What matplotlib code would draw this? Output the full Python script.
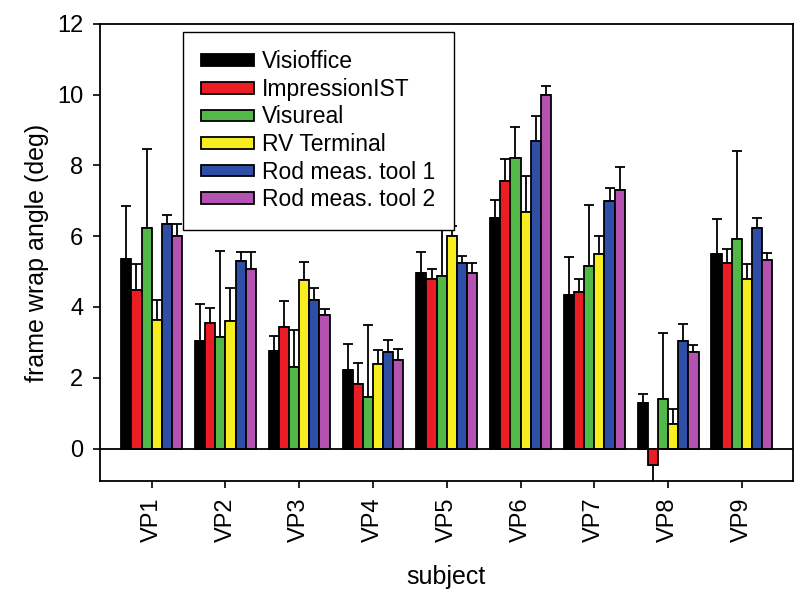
import numpy as np
import matplotlib
matplotlib.use('Agg')
import matplotlib.pyplot as plt

matplotlib.rcParams['font.family'] = 'sans-serif'
matplotlib.rcParams['font.sans-serif'] = ['Liberation Sans', 'DejaVu Sans']

subjects = ['VP1', 'VP2', 'VP3', 'VP4', 'VP5', 'VP6', 'VP7', 'VP8', 'VP9']
devices = ['Visioffice', 'ImpressionIST', 'Visureal', 'RV Terminal',
           'Rod meas. tool 1', 'Rod meas. tool 2']
colors = ['#000000', '#ec1c24', '#52b848', '#f6ee1e', '#2f4ea6', '#b352b0']

# mean frame wrap angle per device (rows) and subject (columns)
visioffice = [5.35, 3.05, 2.77, 2.22, 4.96, 6.52, 4.33, 1.30, 5.49]
impression = [4.47, 3.56, 3.42, 1.82, 4.79, 7.56, 4.42, -0.45, 5.23]
visureal = [6.24, 3.16, 2.31, 1.47, 4.87, 8.21, 5.17, 1.40, 5.93]
rv_terminal = [3.63, 3.60, 4.77, 2.40, 6.01, 6.68, 5.49, 0.70, 4.79]
rod_tool1 = [6.35, 5.31, 4.21, 2.72, 5.23, 8.70, 7.00, 3.05, 6.22]
rod_tool2 = [6.01, 5.07, 3.77, 2.51, 4.96, 9.98, 7.31, 2.72, 5.32]

# standard deviations
visioffice_sd = [1.51, 1.02, 0.41, 0.74, 0.58, 0.51, 1.07, 0.24, 1.00]
impression_sd = [0.74, 0.41, 0.74, 0.60, 0.28, 0.63, 0.37, 0.85, 0.40]
visureal_sd = [2.21, 2.43, 1.04, 2.02, 1.60, 0.88, 1.70, 1.86, 2.47]
rv_terminal_sd = [0.58, 0.93, 0.49, 0.39, 0.29, 1.02, 0.52, 0.43, 0.41]
rod_tool1_sd = [0.24, 0.25, 0.33, 0.35, 0.22, 0.69, 0.35, 0.46, 0.30]
rod_tool2_sd = [0.32, 0.49, 0.17, 0.30, 0.27, 0.26, 0.63, 0.21, 0.20]

means = [visioffice, impression, visureal, rv_terminal, rod_tool1, rod_tool2]
sds = [visioffice_sd, impression_sd, visureal_sd, rv_terminal_sd,
       rod_tool1_sd, rod_tool2_sd]

fig = plt.figure(figsize=(8, 5.94), dpi=100)
ax = fig.add_axes([0.125, 0.19, 0.866, 0.77])

x = np.arange(1, len(subjects) + 1)
width = 0.1375
for i, (name, m, s, c) in enumerate(zip(devices, means, sds, colors)):
    m = np.array(m)
    s = np.array(s)
    pos = x + (i - 2.5) * width
    ax.bar(pos, m, width, color=c, edgecolor='black', linewidth=1.3,
           label=name, zorder=3)
    # one-sided error bars, pointing away from zero
    lower = np.where(m < 0, s, 0)
    upper = np.where(m >= 0, s, 0)
    ax.errorbar(pos, m, yerr=[lower, upper], fmt='none', ecolor='black',
                elinewidth=1.3, capsize=3.5, capthick=1.3, zorder=2)

ax.axhline(0, color='black', lw=1.3, zorder=4)

ax.set_xlim(0.3, 9.69)
ax.set_ylim(-0.92, 12)
ax.set_yticks(np.arange(0, 13, 2))
ax.set_xticks(x)
ax.set_xticklabels(subjects, rotation=90)
ax.tick_params(direction='out', length=5, width=1.2, labelsize=17, pad=7)
for sp in ax.spines.values():
    sp.set_linewidth(1.3)

ax.set_xlabel('subject', fontsize=18, labelpad=16)
ax.set_ylabel('frame wrap angle (deg)', fontsize=18, labelpad=6)

leg = ax.legend(loc='upper left', bbox_to_anchor=(0.12, 0.982),
                borderaxespad=0, fontsize=16.5, fancybox=False,
                edgecolor='black', framealpha=1, handlelength=2.3,
                handleheight=0.4, handletextpad=0.35, labelspacing=0.2,
                borderpad=0.8)
leg.get_frame().set_linewidth(1.0)

plt.savefig('out.png', dpi=100)
